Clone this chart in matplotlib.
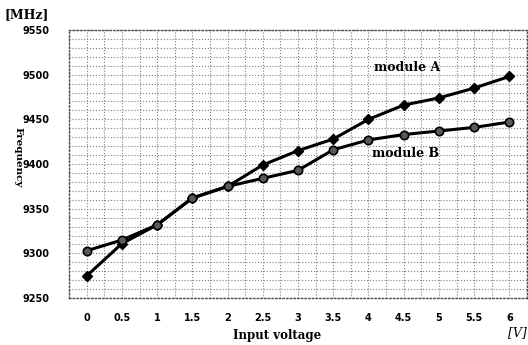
import matplotlib
matplotlib.use("Agg")
import matplotlib.pyplot as plt
import numpy as np

voltage = [0, 0.5, 1, 1.5, 2, 2.5, 3, 3.5, 4, 4.5, 5, 5.5, 6]
module_a = [9275, 9311, 9332, 9362, 9375, 9399, 9415, 9428, 9450, 9466, 9474, 9485, 9498]
module_b = [9303, 9315, 9332, 9362, 9375, 9384, 9393, 9416, 9427, 9433, 9437, 9441, 9447]

x_ticks = [0, 0.5, 1, 1.5, 2, 2.5, 3, 3.5, 4, 4.5, 5, 5.5, 6]
x_labels = ["0", "0.5", "1", "1.5", "2", "2.5", "3", "3.5", "4", "4.5", "5", "5.5", "6"]
y_ticks = [9250, 9300, 9350, 9400, 9450, 9500, 9550]

tickfont = {'family': 'DejaVu Sans', 'weight': 'bold', 'size': 7}
serif = {'family': 'DejaVu Serif', 'weight': 'bold'}

fig = plt.figure(figsize=(5.28, 3.45), dpi=100)
ax = fig.add_axes([0.131, 0.136, 0.867, 0.777])

ax.plot(voltage, module_a, color='black', lw=2.2, marker='D', ms=5,
        mfc='black', mec='black', zorder=3)
ax.plot(voltage, module_b, color='black', lw=2.2, marker='o', ms=6,
        mfc='0.35', mec='black', mew=1.2, zorder=3)

ax.set_xlim(-0.25, 6.25)
ax.set_ylim(9250, 9550)

ax.set_xticks(x_ticks)
ax.set_xticklabels(x_labels, fontdict=tickfont)
ax.set_yticks(y_ticks)
ax.set_yticklabels([str(v) for v in y_ticks], fontdict=tickfont)
ax.set_xticks(np.arange(-0.25, 6.26, 0.25), minor=True)
ax.set_yticks(np.arange(9250, 9551, 10), minor=True)
ax.tick_params(which='both', length=0)
ax.tick_params(axis='x', pad=11)
ax.tick_params(axis='y', pad=14)

ax.grid(which='both', color='0.5', linestyle=':', linewidth=0.8)
for s in ax.spines.values():
    s.set_linestyle(':')
    s.set_linewidth(1.0)
    s.set_color('0.3')

ax.text(4.55, 9508, "module A", fontsize=9, ha='center', va='center', **serif)
ax.text(4.52, 9412, "module B", fontsize=9, ha='center', va='center', **serif)

fig.text(27/528, 1-15/345, "[MHz]", fontsize=9, ha='center', va='center', **serif)
fig.text(18/528, 1-157/345, "Frequency", fontsize=7.5, rotation=-90,
         ha='center', va='center', **serif)
fig.text(277/528, 1-335/345, "Input voltage", fontsize=8.5, ha='center', va='center', **serif)
fig.text(517/528, 1-333/345, "[V]", fontsize=9, ha='center', va='center',
         family='DejaVu Serif', style='italic')

fig.savefig("out.png", dpi=100)
